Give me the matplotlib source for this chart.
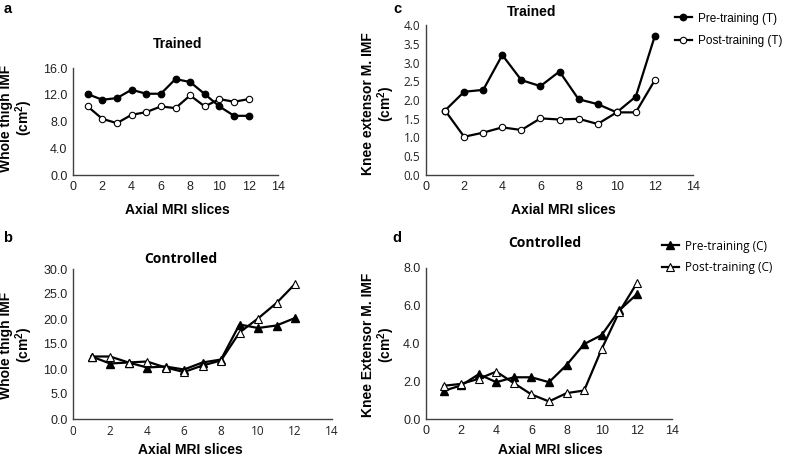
import matplotlib
matplotlib.use("Agg")
import matplotlib.pyplot as plt
from matplotlib.lines import Line2D

plt.rcParams['font.family'] = ['Liberation Sans', 'DejaVu Sans']

slices = list(range(1, 13))

# Panel a: whole thigh IMF, trained
a_pre = [12.1, 11.25, 11.5, 12.75, 12.15, 12.15, 14.35, 13.9, 12.1, 10.25, 8.85, 8.85]
a_post = [10.25, 8.4, 7.75, 9.0, 9.4, 10.25, 10.0, 11.9, 10.25, 11.35, 10.95, 11.35]

# Panel b: whole thigh IMF, controlled
b_pre = [12.5, 11.1, 11.3, 10.3, 10.5, 9.9, 11.3, 11.9, 18.9, 18.2, 18.7, 20.2]
b_post = [12.5, 12.5, 11.3, 11.5, 10.3, 9.4, 10.7, 11.7, 17.3, 20.1, 23.2, 27.0]

# Panel c: knee extensor IMF, trained
c_pre = [1.72, 2.22, 2.27, 3.2, 2.53, 2.37, 2.76, 2.02, 1.89, 1.67, 2.09, 3.71]
c_post = [1.72, 1.02, 1.13, 1.27, 1.2, 1.51, 1.48, 1.5, 1.36, 1.67, 1.67, 2.53]

# Panel d: knee extensor IMF, controlled
d_pre = [1.49, 1.78, 2.37, 1.95, 2.21, 2.21, 1.95, 2.86, 3.97, 4.45, 5.76, 6.61]
d_post = [1.76, 1.86, 2.13, 2.51, 1.9, 1.3, 0.93, 1.37, 1.51, 3.71, 5.68, 7.2]

a_yticks = [0, 4, 8, 12, 16]
b_yticks = [0, 5, 10, 15, 20, 25, 30]
c_yticks = [0, 0.5, 1.0, 1.5, 2.0, 2.5, 3.0, 3.5, 4.0]
d_yticks = [0, 2, 4, 6, 8]
xticks = [0, 2, 4, 6, 8, 10, 12, 14]

W, H = 787, 458
fig = plt.figure(figsize=(W / 100, H / 100), dpi=100)

ALT = ['Open Sans', 'DejaVu Sans']


def rect(left, right, top, bottom):
    return [left / W, 1 - bottom / H, (right - left) / W, (bottom - top) / H]


def style(ax, yticks, yfmt, xfont=None, yfont=None):
    ax.set_xlim(0, 14)
    ax.set_ylim(yticks[0], yticks[-1])
    ax.set_xticks(xticks)
    ax.set_yticks(yticks)
    ax.set_yticklabels([yfmt.format(v) for v in yticks])
    for s in ['top', 'right']:
        ax.spines[s].set_visible(False)
    for s in ['left', 'bottom']:
        ax.spines[s].set_color('#404040')
        ax.spines[s].set_linewidth(1.0)
    ax.tick_params(length=0, labelsize=9, colors='#222222', pad=4)
    if xfont:
        for lab in ax.get_xticklabels():
            lab.set_family(xfont)
            lab.set_fontsize(8.5)
    if yfont:
        for lab in ax.get_yticklabels():
            lab.set_family(yfont)
            lab.set_fontsize(8.5)
    ax.patch.set_alpha(0)


lw = 1.6
ms_c = 4.6
ms_t = 5.4

# Panel a
axa = fig.add_axes(rect(73, 278, 68, 175))
axa.plot(slices, a_pre, color='black', lw=lw, marker='o', ms=ms_c, mfc='black', mec='black')
axa.plot(slices, a_post, color='black', lw=lw, marker='o', ms=ms_c, mfc='white', mec='black', mew=0.8)
style(axa, a_yticks, '{:.1f}')

# Panel c
axc = fig.add_axes(rect(426, 693, 25, 175))
axc.plot(slices, c_pre, color='black', lw=lw, marker='o', ms=ms_c, mfc='black', mec='black')
axc.plot(slices, c_post, color='black', lw=lw, marker='o', ms=ms_c, mfc='white', mec='black', mew=0.8)
style(axc, c_yticks, '{:.1f}', yfont=ALT)

# Panel b
axb = fig.add_axes(rect(73, 332, 269, 419))
axb.plot(slices, b_pre, color='black', lw=lw, marker='^', ms=ms_t, mfc='black', mec='black')
axb.plot(slices, b_post, color='black', lw=lw, marker='^', ms=ms_t, mfc='white', mec='black', mew=0.8)
style(axb, b_yticks, '{:.1f}', xfont=ALT)

# Panel d
axd = fig.add_axes(rect(426, 672, 268, 419))
axd.plot(slices, d_pre, color='black', lw=lw, marker='^', ms=ms_t, mfc='black', mec='black')
axd.plot(slices, d_post, color='black', lw=lw, marker='^', ms=ms_t, mfc='white', mec='black', mew=0.8)
style(axd, d_yticks, '{:.1f}')


def ftext(x, y, s, **kw):
    fig.text(x / W, 1 - y / H, s, **kw)


# Titles
ftext(178, 44, 'Trained', ha='center', va='center', fontsize=10, fontweight='bold')
ftext(532, 12, 'Trained', ha='center', va='center', fontsize=10, fontweight='bold')
ftext(181, 259, 'Controlled', ha='center', va='center', fontsize=10, fontweight='bold', family=ALT)
ftext(545, 243, 'Controlled', ha='center', va='center', fontsize=10, fontweight='bold', family=ALT)

# Panel letters
for x, y, s in [(8, 9, 'a'), (8, 238, 'b'), (397, 9, 'c'), (397, 238, 'd')]:
    ftext(x, y, s, ha='center', va='center', fontsize=10.5, fontweight='bold')

# Axis labels
for x, y in [(177, 210), (563, 210), (190, 450), (550, 450)]:
    ftext(x, y, 'Axial MRI slices', ha='center', va='center', fontsize=10, fontweight='bold')

ylab_kw = dict(ha='center', va='center', rotation=90, fontsize=10, fontweight='bold',
               linespacing=1.05)
ftext(17, 118, 'Whole thigh IMF\n(cm$^\\mathregular{2}$)', **ylab_kw)
ftext(17, 345, 'Whole thigh IMF\n(cm$^\\mathregular{2}$)', **ylab_kw)
ftext(379, 104, 'Knee extensor M. IMF\n(cm$^\\mathregular{2}$)', **ylab_kw)
ftext(379, 345, 'Knee Extensor M. IMF\n(cm$^\\mathregular{2}$)', **ylab_kw)

# Legends
h_pre_t = Line2D([], [], color='black', lw=lw, marker='o', ms=ms_c, mfc='black')
h_post_t = Line2D([], [], color='black', lw=lw, marker='o', ms=ms_c, mfc='white', mew=0.8)
fig.legend([h_pre_t, h_post_t], ['Pre-training (T)', 'Post-training (T)'],
           loc='upper left', bbox_to_anchor=(664 / W, 1 - 2 / H), frameon=False,
           fontsize=8.5, handlelength=1.5, handletextpad=0.5, labelspacing=0.85)
h_pre_c = Line2D([], [], color='black', lw=lw, marker='^', ms=ms_t, mfc='black')
h_post_c = Line2D([], [], color='black', lw=lw, marker='^', ms=ms_t, mfc='white', mew=0.8)
fig.legend([h_pre_c, h_post_c], ['Pre-training (C)', 'Post-training (C)'],
           loc='upper left', bbox_to_anchor=(651 / W, 1 - 229 / H), frameon=False,
           handlelength=1.5, handletextpad=0.5, labelspacing=0.75,
           prop={'family': ALT, 'size': 8.5})

fig.savefig('out.png', dpi=100, facecolor='white')
